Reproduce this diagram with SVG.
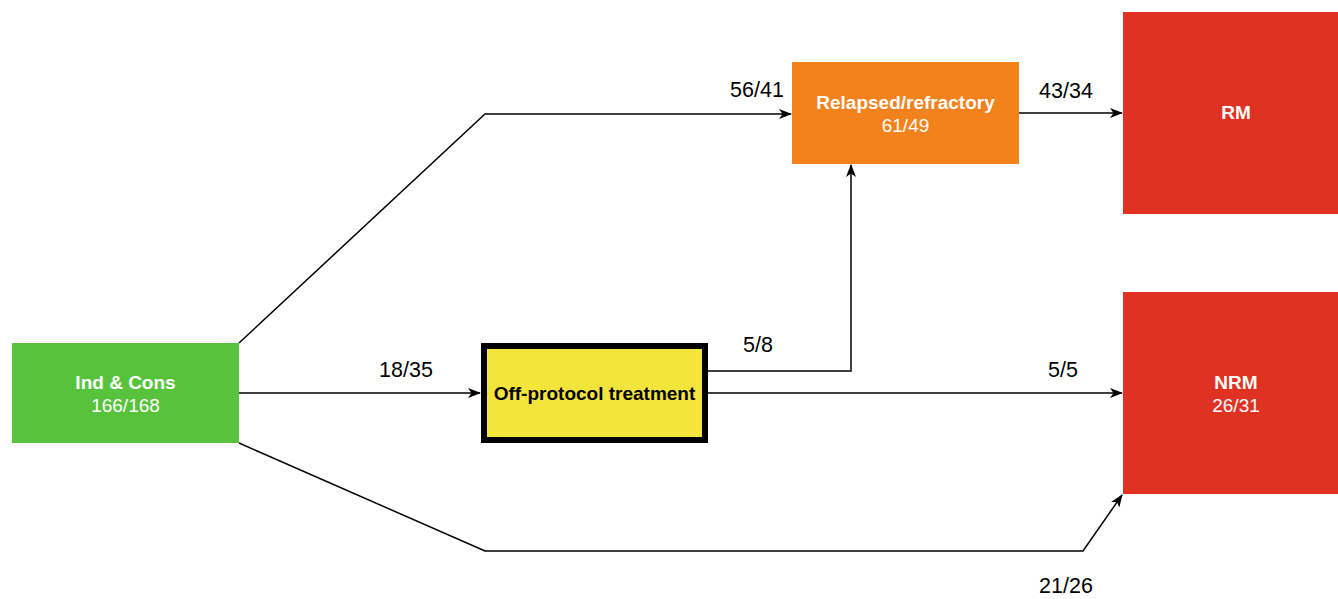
<svg xmlns="http://www.w3.org/2000/svg" width="1338" height="599" viewBox="0 0 1338 599">
<style>
.n{font-family:"Liberation Sans",Arial,sans-serif;font-size:19px;fill:#fff;text-anchor:middle}
.b{font-weight:bold}
.e{fill:none;stroke:#000;stroke-width:1.5;marker-end:url(#arr)}
.l{font-family:"Liberation Sans",Arial,sans-serif;font-size:21.5px;fill:#000;text-anchor:middle}
</style>
<defs>
<marker id="arr" viewBox="0 0 13 10" refX="12" refY="5" markerWidth="13" markerHeight="10" markerUnits="userSpaceOnUse" orient="auto">
<path d="M0,0 L13,5 L0,10 L3.5,5 Z" fill="#000"/>
</marker>
</defs>
<rect width="1338" height="599" fill="#fff"/>
<g id="connectors">
<path class="e" d="M239,343 L485,114 L791,114"/>
<path class="e" d="M239,393 L480,393"/>
<path class="e" d="M708,371 L851,371 L851,165"/>
<path class="e" d="M708,393 L1122,393"/>
<path class="e" d="M239,443 L485,551 L1083,551 L1122,495"/>
<path class="e" d="M1019,113 L1122,113"/>
<text class="l" x="757" y="97">56/41</text>
<text class="l" x="406" y="377">18/35</text>
<text class="l" x="758" y="352">5/8</text>
<text class="l" x="1063" y="377">5/5</text>
<text class="l" x="1066" y="593">21/26</text>
<text class="l" x="1066" y="98">43/34</text>
</g>
<g id="ind">
<rect x="12" y="343" width="227" height="100" fill="#57c33d"/>
<text class="n b" x="125.5" y="389">Ind &amp; Cons</text>
<text class="n" x="125.5" y="412">166/168</text>
</g>
<g id="off">
<rect x="484" y="346" width="221" height="94" fill="#f3e53b" stroke="#000" stroke-width="6"/>
<text class="n b" x="594.5" y="400" style="fill:#000">Off-protocol treatment</text>
</g>
<g id="relapsed">
<rect x="792" y="62" width="227" height="102" fill="#f4821c"/>
<text class="n b" x="905.5" y="109">Relapsed/refractory</text>
<text class="n" x="905.5" y="132">61/49</text>
</g>
<g id="rm">
<rect x="1123" y="12" width="220" height="202" fill="#e03222"/>
<text class="n b" x="1236" y="119">RM</text>
</g>
<g id="nrm">
<rect x="1123" y="292" width="220" height="202" fill="#e03222"/>
<text class="n b" x="1236" y="389">NRM</text>
<text class="n" x="1236" y="412">26/31</text>
</g>
</svg>
